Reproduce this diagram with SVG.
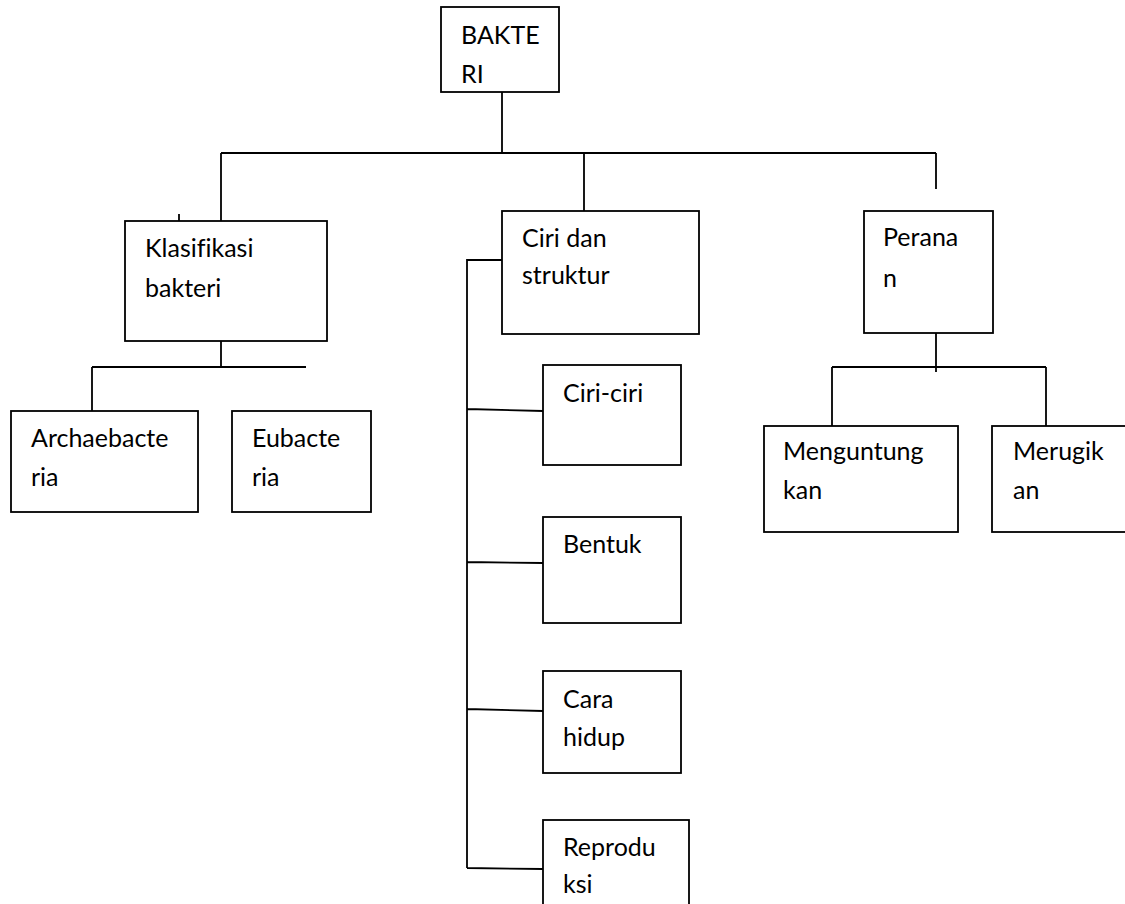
<svg xmlns="http://www.w3.org/2000/svg" width="1125" height="904" viewBox="0 0 1125 904">
<style>
  .box { fill: #ffffff; stroke: #000000; stroke-width: 1.8; }
  .line { fill: none; stroke: #000000; stroke-width: 1.8; }
  text { font-family: Lato, "Liberation Sans", sans-serif; font-size: 25px; fill: #000000; font-variant-ligatures: none; }
</style>
<rect width="1125" height="904" fill="#ffffff"/>
<g id="connectors">
  <path class="line" d="M502,92 V153 M221,153 H936 M221,153 V221 M584,153 V211 M936,153 V189 M179,214 V221"/>
  <path class="line" d="M221,331 V367 M92,367 H306 M92,367 V416"/>
  <path class="line" d="M502,260 H467 V868 M467,409 L543,411 M467,562 L543,563 M467,709 L543,711 M467,868 L543,869"/>
  <path class="line" d="M936,323 V372 M832,367 H1046 M832,367 V432 M1046,367 V432"/>
</g>
<g id="node-bakteri">
  <rect class="box" x="441" y="7" width="118" height="85"/>
  <text x="461" y="44">BAKTE</text>
  <text x="461" y="83">RI</text>
</g>
<g id="node-klasifikasi">
  <rect class="box" x="125" y="221" width="202" height="120"/>
  <text x="145" y="257">Klasifikasi</text>
  <text x="145" y="297">bakteri</text>
</g>
<g id="node-archaebacteria">
  <rect class="box" x="11" y="411" width="187" height="101"/>
  <text x="31" y="447">Archaebacte</text>
  <text x="31" y="486">ria</text>
</g>
<g id="node-eubacteria">
  <rect class="box" x="232" y="411" width="139" height="101"/>
  <text x="252" y="447">Eubacte</text>
  <text x="252" y="486">ria</text>
</g>
<g id="node-ciri-struktur">
  <rect class="box" x="502" y="211" width="197" height="123"/>
  <text x="522" y="247">Ciri dan</text>
  <text x="522" y="284">struktur</text>
</g>
<g id="node-ciri-ciri">
  <rect class="box" x="543" y="365" width="138" height="100"/>
  <text x="563" y="402">Ciri-ciri</text>
</g>
<g id="node-bentuk">
  <rect class="box" x="543" y="517" width="138" height="106"/>
  <text x="563" y="553">Bentuk</text>
</g>
<g id="node-cara-hidup">
  <rect class="box" x="543" y="671" width="138" height="102"/>
  <text x="563" y="708">Cara</text>
  <text x="563" y="746">hidup</text>
</g>
<g id="node-reproduksi">
  <rect class="box" x="543" y="820" width="146" height="100"/>
  <text x="563" y="856">Reprodu</text>
  <text x="563" y="893">ksi</text>
</g>
<g id="node-peranan">
  <rect class="box" x="864" y="211" width="129" height="122"/>
  <text x="883" y="246">Perana</text>
  <text x="883" y="287">n</text>
</g>
<g id="node-menguntungkan">
  <rect class="box" x="764" y="426" width="194" height="106"/>
  <text x="783" y="460">Menguntung</text>
  <text x="783" y="499">kan</text>
</g>
<g id="node-merugikan">
  <rect class="box" x="992" y="426" width="140" height="106"/>
  <text x="1013" y="460">Merugik</text>
  <text x="1013" y="499">an</text>
</g>
</svg>
